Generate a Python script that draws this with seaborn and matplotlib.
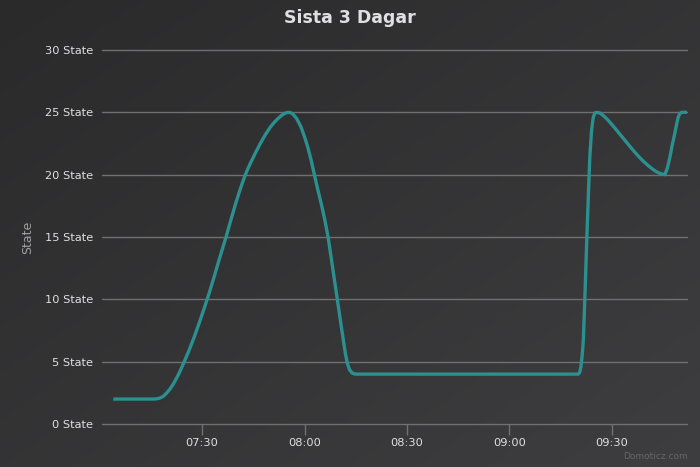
import numpy as np
import pandas as pd
import matplotlib
matplotlib.use("Agg")
import matplotlib.pyplot as plt
import seaborn as sns
from matplotlib.colors import LinearSegmentedColormap

# ---- data (minutes after 07:00, state value) ----
minutes = [3.95, 8.0, 12.0, 15.5, 16.5, 17.5, 18.5, 19.5, 20.5, 21.5, 22.5,
           23.5, 24.75, 26.0, 27.5, 29.0, 30.5, 32.0, 33.5, 35.0, 36.5, 37.0,
           38.5, 40.0, 41.0, 41.8, 42.5, 43.3, 44.2, 45.5, 47.0, 48.5, 50.0,
           51.2, 52.4, 53.5, 54.5, 55.2, 55.9, 56.6, 57.7, 59.0, 60.1, 61.0,
           61.9, 62.8, 63.8, 65.0, 66.0, 66.9, 68.2, 69.6, 71.0, 72.0, 72.6,
           73.2, 73.9, 74.8,
           100.0, 120.0, 140.2, 140.6, 141.0, 141.4, 141.7, 142.2, 142.7,
           143.2, 143.6, 144.1, 144.6, 145.1, 145.6, 146.5, 147.5, 148.5,
           149.5, 150.5, 151.8, 153.0, 154.5, 156.0, 157.5, 159.0, 160.5,
           161.8, 163.0, 164.3, 165.6, 166.3, 167.0, 167.7, 168.5, 169.0,
           169.5, 170.0, 170.5, 172.3]
states = [2.0, 2.0, 2.0, 2.0, 2.01, 2.07, 2.2, 2.45, 2.78, 3.18, 3.68,
          4.22, 5.0, 5.8, 6.85, 8.0, 9.2, 10.45, 11.8, 13.2, 14.55, 15.0,
          16.45, 17.85, 18.7, 19.35, 19.88, 20.42, 20.95, 21.68, 22.48, 23.2, 23.82,
          24.22, 24.55, 24.8, 24.95, 25.0, 24.97, 24.85, 24.5, 23.8, 22.95, 22.15,
          21.2, 20.1, 18.9, 17.55, 16.3, 15.0, 12.6, 10.0, 7.4, 5.6, 4.8,
          4.35, 4.1, 4.0,
          4.0, 4.0, 4.0, 4.1, 4.6, 5.6, 6.7, 10.5, 14.7,
          18.5, 21.4, 23.5, 24.6, 24.95, 25.0, 24.95, 24.75, 24.5,
          24.2, 23.88, 23.45, 23.05, 22.55, 22.05, 21.58, 21.15, 20.78,
          20.48, 20.25, 20.08, 20.0, 20.5, 21.3, 22.3, 23.3, 24.0,
          24.6, 24.9, 25.0, 25.0]

xtick_pos = [30, 60, 90, 120, 150]
xtick_labels = ["07:30", "08:00", "08:30", "09:00", "09:30"]
ytick_vals = [0, 5, 10, 15, 20, 25, 30]
ytick_labels = [f"{v} State" for v in ytick_vals]

title = "Sista 3 Dagar"
ylabel = "State"
credit = "Domoticz.com"

df = pd.DataFrame({"minute": minutes, "state": states})

# ---- style ----
sns.set_theme(style="dark")
plt.rcParams["font.family"] = ["DejaVu Sans"]

fig = plt.figure(figsize=(7.0, 4.67), dpi=100)

# diagonal gradient background
bg = fig.add_axes([0, 0, 1, 1], zorder=-10)
gx, gy = np.meshgrid(np.linspace(0, 1, 350), np.linspace(0, 1, 234))
grad = (gx + gy) / 2.0
cmap = LinearSegmentedColormap.from_list("bg", ["#2a2a2b", "#3e3e40"])
bg.imshow(grad, cmap=cmap, aspect="auto", extent=[0, 1, 1, 0],
          interpolation="bicubic")
bg.set_axis_off()

ax = fig.add_axes([0.1454, 0.0921, 0.982 - 0.1454, 0.893 - 0.0921])
ax.set_facecolor("none")

sns.lineplot(data=df, x="minute", y="state", color="#2b908f",
             linewidth=2.4, ax=ax, sort=False,
             solid_joinstyle="round", solid_capstyle="butt")

ax.set_xlim(0.58, 172.2)
ax.set_ylim(0, 30)

ax.set_yticks(ytick_vals)
ax.set_yticklabels(ytick_labels, color="#E0E0E3", fontsize=8.2)
ax.set_xticks(xtick_pos)
ax.set_xticklabels(xtick_labels, color="#E0E0E3", fontsize=8.2)

ax.tick_params(axis="y", length=0, pad=6)
ax.tick_params(axis="x", length=8, width=1, color="#707073", direction="out",
               pad=2, bottom=True)

ax.yaxis.grid(True, color="#707073", linewidth=1.0)
ax.xaxis.grid(False)
for t in ax.yaxis.get_major_ticks():
    t.gridline.set_clip_on(False)

for s in ax.spines.values():
    s.set_visible(False)

ax.set_xlabel("")
ax.set_ylabel(ylabel, color="#A0A0A3", fontsize=9, labelpad=8)

fig.text(0.5, 0.962, title, ha="center", va="center", color="#E0E0E3",
         fontsize=12.5, fontweight="bold")
fig.text(0.982, 0.022, credit, ha="right", va="center", color="#666666",
         fontsize=6.5)

fig.savefig("out.png", dpi=100)
